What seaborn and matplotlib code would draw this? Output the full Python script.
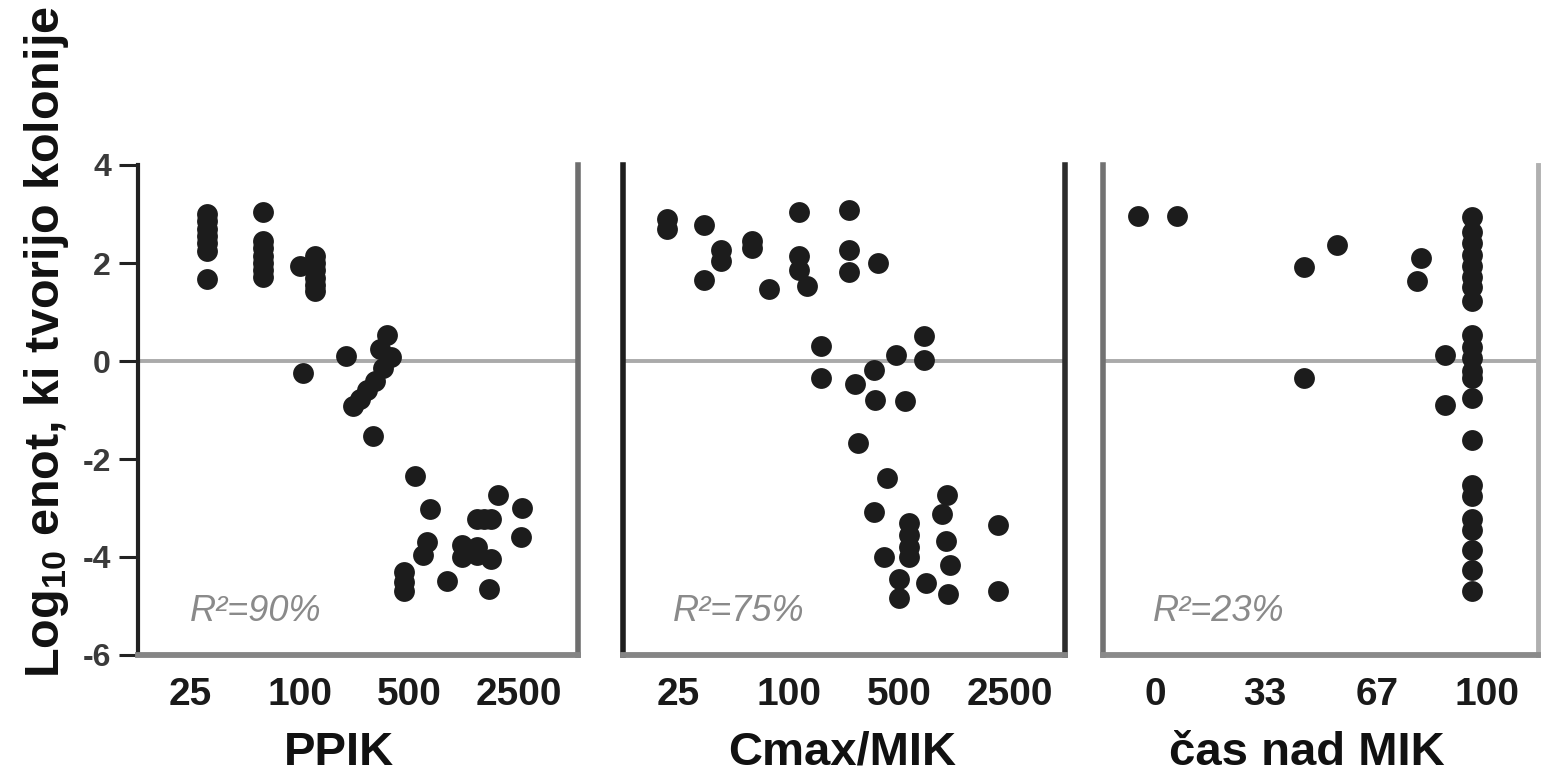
import numpy as np
import matplotlib
matplotlib.use("Agg")
import matplotlib.pyplot as plt
from matplotlib.ticker import NullLocator
import seaborn as sns

# ---------------- data ----------------
log_ticks = [25, 100, 500, 2500]          # tick labels of the PPIK and Cmax/MIK axes
time_ticks = [0, 33, 67, 100]             # tick labels of the time-above-MIC axis
y_ticks = [-6, -4, -2, 0, 2, 4]

ppik_x = [31, 31, 31, 31, 31, 31, 31,
          63, 63, 63, 63, 63, 63, 63,
          125, 125, 125, 125, 125, 125, 100,
          105, 197,
          362, 326, 381, 342, 304, 268, 242, 220,
          294,
          541, 679, 1848, 2625, 1356, 1500, 1650, 2600, 647, 610,
          1081, 1081, 1356, 1356, 1650, 462, 462, 462, 877, 1620]
ppik_y = [3.0, 2.85, 2.7, 2.55, 2.4, 2.25, 1.67,
          3.04, 2.45, 2.3, 2.15, 2.0, 1.85, 1.71,
          2.14, 2.0, 1.85, 1.7, 1.55, 1.42, 1.94,
          -0.24, 0.1,
          0.54, 0.25, 0.08, -0.15, -0.4, -0.6, -0.78, -0.92,
          -1.53,
          -2.35, -3.02, -2.73, -3.0, -3.22, -3.22, -3.22, -3.6, -3.7, -3.96,
          -3.76, -4.0, -3.8, -3.96, -4.04, -4.3, -4.5, -4.7, -4.48, -4.66]

cmax_x = [21.8, 21.8, 34.4, 34.4, 42.6, 42.6, 63, 63, 78,
          116, 116, 116, 131, 242, 242, 242, 369,
          159, 159, 263, 345, 476, 713, 713, 350, 541,
          275, 419, 345, 999, 937, 2096,
          578, 578, 578, 578, 399, 986, 1046, 500, 736, 500, 1012, 2096]
cmax_y = [2.9, 2.7, 2.78, 1.65, 2.27, 2.05, 2.45, 2.3, 1.46,
          3.04, 2.14, 1.85, 1.53, 3.08, 2.26, 1.82, 2.0,
          0.31, -0.35, -0.47, -0.19, 0.12, 0.52, 0.02, -0.8, -0.82,
          -1.67, -2.39, -3.08, -2.73, -3.12, -3.35,
          -3.3, -3.55, -3.8, -4.0, -4.0, -3.67, -4.16, -4.44, -4.54, -4.84, -4.76, -4.7]

time_x = [-5.1, 6.6, 45, 54.8, 45, 80, 79, 87.5, 87.5,
          95.5, 95.5, 95.5, 95.5, 95.5, 95.5, 95.5, 95.5,
          95.5, 95.5, 95.5, 95.5, 95.5, 95.5, 95.5,
          95.5, 95.5, 95.5, 95.5, 95.5, 95.5, 95.5]
time_y = [2.96, 2.96, 1.92, 2.36, -0.35, 2.1, 1.63, 0.12, -0.89,
          2.94, 2.64, 2.4, 2.16, 1.94, 1.71, 1.51, 1.22,
          0.54, 0.29, 0.06, -0.21, -0.35, -0.75, -1.62,
          -2.53, -2.76, -3.22, -3.45, -3.86, -4.26, -4.7]

x_titles = ["PPIK", "Cmax/MIK", "čas nad MIK"]
r2_labels = ["R²=90%", "R²=75%", "R²=23%"]
y_title = r"Log$_{10}$ enot, ki tvorijo kolonije"

# ---------------- style ----------------
sns.set_style("white")
FONT = "Liberation Sans"
plt.rcParams["font.family"] = [FONT, "DejaVu Sans"]
plt.rcParams["axes.unicode_minus"] = False
plt.rcParams["mathtext.fontset"] = "custom"
plt.rcParams["mathtext.rm"] = FONT
plt.rcParams["mathtext.bf"] = FONT + ":bold"
plt.rcParams["mathtext.default"] = "regular"

DOT = "#1c1c1c"

# axis where the tick labels 25/100/500/2500 are equally spaced (piecewise log)
LT = np.log10(np.array(log_ticks, dtype=float))
IDX = np.arange(len(LT), dtype=float)


def fwd(v):
    v = np.asarray(v, dtype=float)
    l = np.log10(np.clip(v, 1e-9, None))
    out = np.interp(l, LT, IDX)
    out = np.where(l < LT[0], (l - LT[0]) / (LT[1] - LT[0]), out)
    out = np.where(l > LT[-1], IDX[-1] + (l - LT[-1]) / (LT[-1] - LT[-2]), out)
    return out


def inv(i):
    i = np.asarray(i, dtype=float)
    l = np.interp(i, IDX, LT)
    l = np.where(i < 0, LT[0] + i * (LT[1] - LT[0]), l)
    l = np.where(i > IDX[-1], LT[-1] + (i - IDX[-1]) * (LT[-1] - LT[-2]), l)
    return 10 ** l


fig = plt.figure(figsize=(15.41, 7.75), dpi=100)
W, H = 1541.0, 775.0
bottom = 1 - 655 / H
height = (655 - 165) / H
rects = [(138, 440), (623, 442), (1103, 435)]
axes = [fig.add_axes([l / W, bottom, w / W, height]) for l, w in rects]

datasets = [(ppik_x, ppik_y), (cmax_x, cmax_y), (time_x, time_y)]
for ax, (xs, ys) in zip(axes, datasets):
    ax.axhline(0, color="#aaaaaa", lw=2.8, zorder=0)
    sns.scatterplot(x=xs, y=ys, ax=ax, color=DOT, s=225, linewidth=0, zorder=3)
    ax.set_ylim(-6, 4)

# x scales
for ax, (lo, hi) in zip(axes[:2], [(-0.475, 3.54), (-0.50, 3.50)]):
    ax.set_xscale("function", functions=(fwd, inv))
    ax.set_xlim(float(inv(lo)), float(inv(hi)))
    ax.set_xticks(log_ticks)
    ax.set_xticklabels([str(t) for t in log_ticks])
    ax.xaxis.set_minor_locator(NullLocator())
axes[2].set_xlim(-15.7, 115.4)
axes[2].set_xticks(time_ticks)
axes[2].set_xticklabels([str(t) for t in time_ticks])

# spines
spine_styles = [
    {"left": ("#222222", 3.0), "right": ("#6e6e6e", 4.0), "bottom": ("#858585", 4.2)},
    {"left": ("#1e1e1e", 4.0), "right": ("#2c2c2c", 4.0), "bottom": ("#858585", 4.2)},
    {"left": ("#727272", 4.0), "right": ("#b0b0b0", 3.5), "bottom": ("#8a8a8a", 4.2)},
]
for ax, st in zip(axes, spine_styles):
    ax.spines["top"].set_visible(False)
    for side, (c, lw) in st.items():
        ax.spines[side].set_visible(True)
        ax.spines[side].set_color(c)
        ax.spines[side].set_linewidth(lw)
    ax.tick_params(axis="x", length=0, pad=16, labelsize=28, labelcolor="#1a1a1a")
    for lab in ax.get_xticklabels():
        lab.set_fontweight("bold")

# y ticks only on first panel
axes[0].set_yticks(y_ticks)
axes[0].set_yticklabels([str(t) for t in y_ticks])
axes[0].tick_params(axis="y", left=True, length=13.5, width=2.2, color="#222222",
                    pad=6, labelsize=23, labelcolor="#3a3a3a")
for lab in axes[0].get_yticklabels():
    lab.set_fontweight("bold")
for ax in axes[1:]:
    ax.set_yticks([])
    ax.set_ylabel("")

# x titles
label_x = [0.457, 0.495, 0.469]
for ax, t, lx in zip(axes, x_titles, label_x):
    ax.set_xlabel(t, fontsize=34, fontweight="bold", color="#111111")
    ax.xaxis.label.set_va("bottom")
    ax.xaxis.set_label_coords(lx, -0.244)

# R^2 annotations
r2_x = [0.118, 0.113, 0.115]
for ax, t, rx in zip(axes, r2_labels, r2_x):
    ax.text(rx, 0.088, t, transform=ax.transAxes, fontsize=26, style="italic",
            color="#8a8a8a", ha="left", va="center")

fig.text(0.030, 0.559, y_title, rotation=90, fontsize=35, fontweight="bold",
         ha="center", va="center", color="#111111")

fig.savefig("out.png", dpi=100)
